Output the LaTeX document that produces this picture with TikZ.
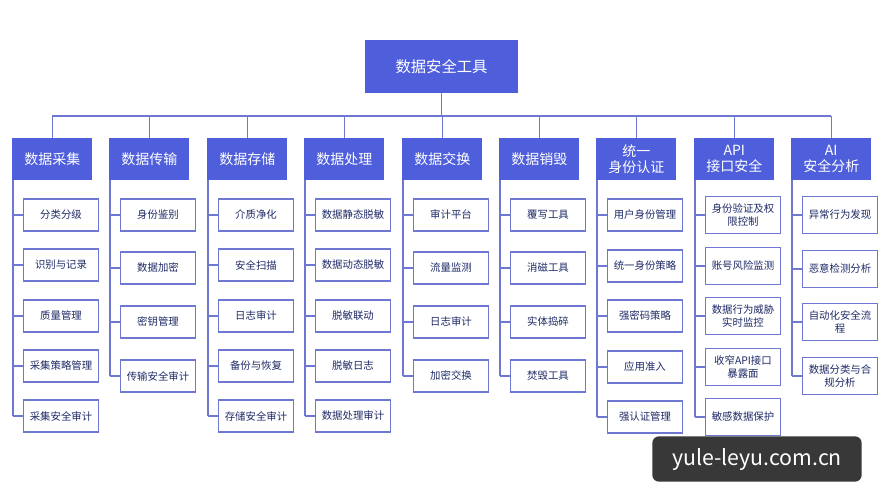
\documentclass[tikz,border=0pt]{standalone}
\usepackage{fontspec}
\setmainfont{Noto Sans CJK SC}
\definecolor{hb}{HTML}{4F5FDC}
\definecolor{ln}{HTML}{6E78D2}
\definecolor{tx}{HTML}{1F2A66}
\begin{document}
\begin{tikzpicture}[x=0.75pt,y=-0.75pt,
 hd/.style={fill=hb,text=white,minimum width=60pt,minimum height=31.5pt,inner sep=1pt,font=\fontsize{10.5}{12}\selectfont,align=center,anchor=north west},
 ch/.style={draw=ln,line width=0.8pt,fill=white,text=tx,minimum width=56pt,minimum height=24pt,inner sep=1pt,font=\fontsize{7.8}{9.5}\selectfont,align=center},
 ln/.style={draw=ln,line width=1pt}]
\fill[white] (0,0) rectangle (889,500);
\node[fill=hb,text=white,minimum width=115pt,minimum height=40pt,font=\fontsize{11.5}{13}\selectfont] (root) at (441.5,66.5) {数据安全工具};
\coordinate (busL) at (52,116);
\coordinate (busR) at (831,116);
\draw[ln] (root.south) -- (441.5,116);
\draw[ln] (busL) -- (busR);
\def\cols{
 {12/数据采集/{分类分级,识别与记录,质量管理,采集策略管理,采集安全审计}/{215,265,316,366,416}},
 {109/数据传输/{身份鉴别,数据加密,密钥管理,传输安全审计}/{215,268,322,376}},
 {207/数据存储/{介质净化,安全扫描,日志审计,备份与恢复,存储安全审计}/{215,265,316,366,416}},
 {304/数据处理/{数据静态脱敏,数据动态脱敏,脱敏联动,脱敏日志,数据处理审计}/{215,265,316,366,416}},
 {402/数据交换/{审计平台,流量监测,日志审计,加密交换}/{215,268,322,376}},
 {499/数据销毁/{覆写工具,消磁工具,实体捣碎,焚毁工具}/{215,268,322,376}},
 {596/统一\\身份认证/{用户身份管理,统一身份策略,强密码策略,应用准入,强认证管理}/{215,266,316,367,417}},
 {694/API\\接口安全/{{身份验证及权\\限控制},账号风险监测,{数据行为威胁\\实时监控},{收窄API接口\\暴露面},敏感数据保护}/{215,266,316,367,417}},
 {791/AI\\安全分析/{异常行为发现,恶意检测分析,{自动化安全流\\程},{数据分类与合\\规分析}}/{215,269,322,376}}}
\foreach \xl/\t/\items/\ys [count=\c] in \cols {
  \node[hd] (h\c) at (\xl,138) {\t};
  \draw[ln] (h\c.north) -- (h\c.north |- busL);
  \foreach \yy [count=\k] in \ys {
    \node[ch,minimum height=\ifnum\c>7 28pt\else 24pt\fi] (c\c-\k) at (\xl+49,\yy) {};
    \draw[ln] (\xl+1,\yy) -- (c\c-\k.west);
    \xdef\lasty{\yy}
  }
  \foreach \it [count=\k] in \items { \node[text=tx,font=\fontsize{7.8}{9.5}\selectfont,align=center] at (c\c-\k) {\it}; }
  \draw[ln] (\xl+1,180) -- (\xl+1,\lasty);
}
\node[fill=black!78,text=white,rounded corners=5pt,minimum width=157pt,minimum height=34pt,font=\fontsize{16}{18}\selectfont] (wm) at (757,459) {yule-leyu.com.cn};
\end{tikzpicture}
\end{document}
